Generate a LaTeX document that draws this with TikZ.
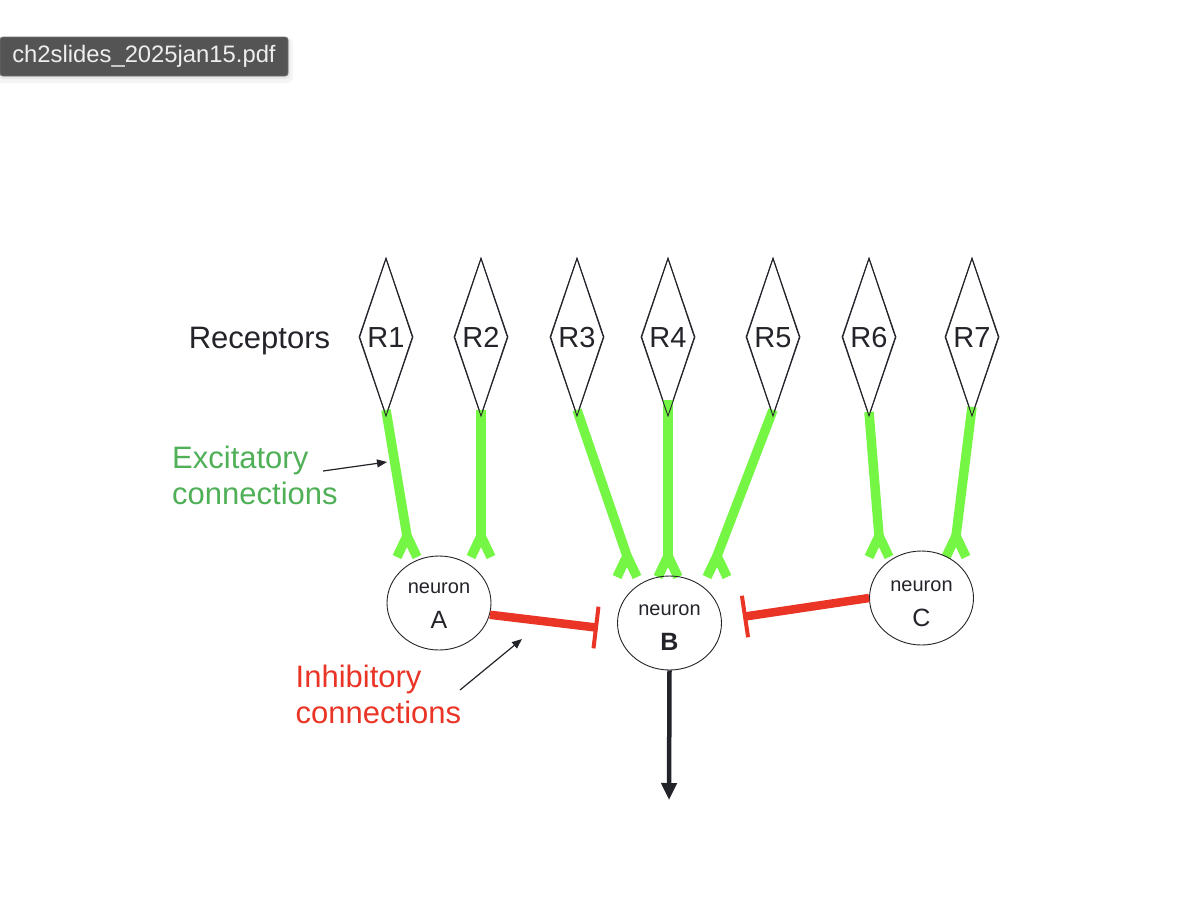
\documentclass[tikz,border=0pt]{standalone}
\usepackage{fontspec}
\setmainfont{Liberation Sans}
\usetikzlibrary{shapes.geometric,arrows.meta,calc}
\definecolor{exgreen}{RGB}{117,246,68}
\definecolor{extext}{RGB}{80,176,88}
\definecolor{inred}{RGB}{233,52,38}
\definecolor{ink}{RGB}{35,35,42}
\definecolor{tabgray}{RGB}{84,84,84}
\definecolor{tabedge}{RGB}{112,112,112}
\definecolor{tabtext}{RGB}{238,238,238}
\begin{document}
\begin{tikzpicture}[x=1pt,y=-1pt,
 rec/.style={diamond, draw=ink, line width=0.9pt, minimum width=53pt, minimum height=157pt, inner sep=0pt, shape aspect=0.34, font=\fontsize{29}{34}\selectfont, text=ink, text height=21pt, text depth=0pt},
 neu/.style={ellipse, draw=ink, line width=0.9pt, minimum width=104pt, minimum height=94pt, inner sep=0pt},
 ntext/.style={align=center, text=ink, inner sep=0pt, font=\fontsize{20}{35}\selectfont},
 exc/.style={draw=exgreen, line width=9.5pt},
 inh/.style={draw=inred, line width=8.5pt},
 inhbar/.style={draw=inred, line width=4pt},
 lbl/.style={align=left, inner sep=0pt, anchor=west, font=\fontsize{31}{36.5}\selectfont},
 pointer/.style={draw=ink, line width=1.2pt, -{Triangle[width=8pt,length=10pt]}},
 outarrow/.style={draw=ink, line width=4.5pt, -{Triangle[width=15pt,length=17pt]}},
 tab/.style={fill=tabgray, draw=tabedge, line width=0.8pt, rounded corners=3pt, minimum width=288pt, minimum height=39pt, inner sep=0pt, text=tabtext, font=\fontsize{23.8}{27}\selectfont},
]
\useasboundingbox (0,0) rectangle (1192,898);

% title tab with soft shadow
\fill[black, opacity=0.04, rounded corners=6pt] (-4,37) rectangle (293,83);
\fill[black, opacity=0.06, rounded corners=4pt] (-1,38) rectangle (290,79);
\node[tab] (title) at (144,56.5) {ch2slides\_2025jan15.pdf};

% fork points of excitatory connections
\coordinate (f1) at (407,536);
\coordinate (f2) at (481,536);
\coordinate (f3) at (627,556);
\coordinate (f4) at (668,556);
\coordinate (f5) at (717,556);
\coordinate (f6) at (879,536);
\coordinate (f7) at (956,536);

% receptors
\node[rec] (R1) at (386,337) {R1};
\node[rec] (R2) at (481,337) {R2};
\node[rec] (R3) at (577,337) {R3};
\node[rec] (R4) at (668,337) {R4};
\node[rec] (R5) at (773,337) {R5};
\node[rec] (R6) at (869,337) {R6};
\node[rec] (R7) at (972,337) {R7};
\node[font=\fontsize{31}{36}\selectfont, text=ink, anchor=base, inner sep=0pt] (rlab) at (259.5,348) {Receptors};

% excitatory connections
\foreach \r/\f/\u in {R1/f1/6, R2/f2/6, R3/f3/6, R4/f4/16, R5/f5/6, R6/f6/4, R7/f7/9}{
  \draw[exc] ($(\r.south)+(0,-\u)$) -- (\f);
  \draw[exc] (\f) -- ++(-10,21);
  \draw[exc] (\f) -- ++(10,21);
}
% receptor outlines above the green stems
\foreach \r in {R1,R2,R3,R4,R5,R6,R7}{
  \draw[ink, line width=0.9pt] (\r.north) -- (\r.east) -- (\r.south) -- (\r.west) -- cycle;
}

% neurons
\node[neu] (A) at (439,603) {};
\node[neu] (B) at (669.5,623) {};
\node[neu] (C) at (921.5,598) {};
\node[ntext] (Atxt) at (439,605.5) {neuron\\\fontsize{25}{35}\selectfont A};
\node[ntext] (Btxt) at (669.5,627.5) {neuron\\\fontsize{25}{35}\selectfont\bfseries B};
\node[ntext] (Ctxt) at (921.5,603.5) {neuron\\\fontsize{25}{35}\selectfont C};

% inhibitory connections
\coordinate (tA) at (596,627.5);
\coordinate (tC) at (745,616.5);
\draw[inh] (A.-13) -- (tA);
\draw[inhbar] ($(tA)!21pt!90:(A.-13)$) -- ($(tA)!21pt!-90:(A.-13)$);
\draw[inh] (C.west) -- (tC);
\draw[inhbar] ($(tC)!21pt!90:(C.west)$) -- ($(tC)!21pt!-90:(C.west)$);

% output
\coordinate (out) at (669,800);
\draw[outarrow] (B.south) -- (out);

% labels
\node[lbl, text=extext] (exlab) at (172,475.3) {Excitatory\\connections};
\node[lbl, text=inred] (inlab) at (295.5,694.5) {Inhibitory\\connections};
\coordinate (ep0) at (323,471);
\coordinate (ep1) at (387,462);
\draw[pointer] (ep0) -- (ep1);
\coordinate (ip0) at (460,690);
\coordinate (ip1) at (522,639);
\draw[pointer] (ip0) -- (ip1);
\end{tikzpicture}
\end{document}
